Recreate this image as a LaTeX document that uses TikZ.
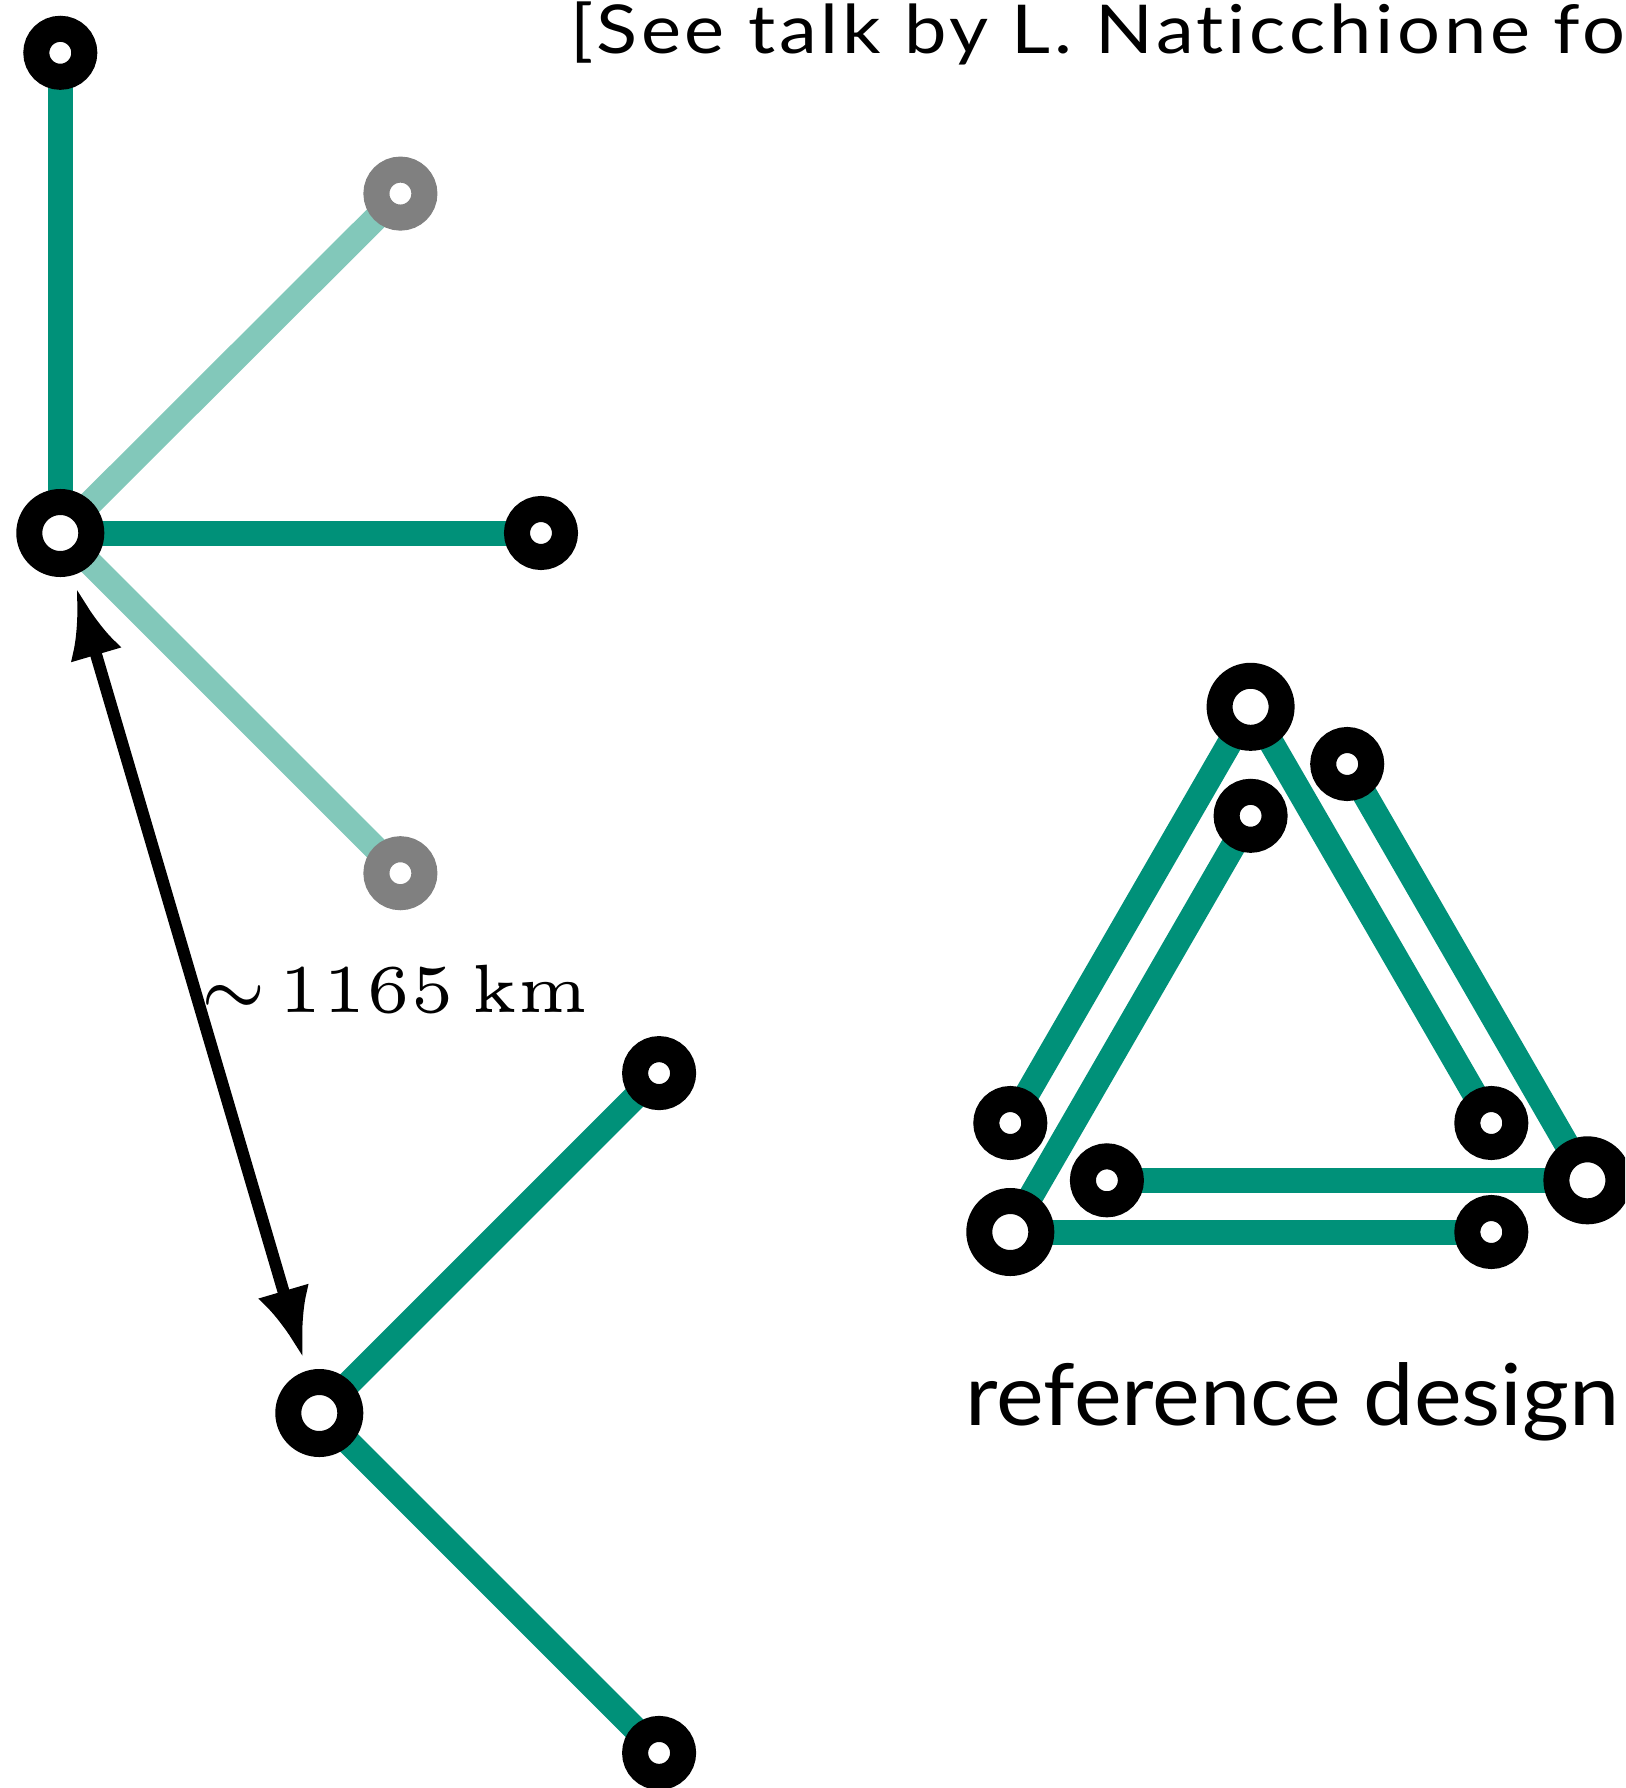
\documentclass[tikz,border=0pt]{standalone}
\usepackage{graphicx}
\usepackage{fontspec}
\newfontfamily\capfont{Lato}[Ligatures=NoCommon]
\newfontfamily\notefont{Lato}[LetterSpace=5, Ligatures=NoCommon]
\usetikzlibrary{arrows.meta}
\definecolor{armgreen}{RGB}{0,145,121}
\definecolor{armlight}{RGB}{130,200,186}
\definecolor{stationgrey}{RGB}{128,128,128}
\pgfdeclarelayer{arms}
\pgfsetlayers{arms,main}
% set a line of text to a given width, with the height of a chosen letter scaled to a given size
\newsavebox\sizedbox
\newcommand\sizedtext[4]{\resizebox{#1}{#2}{\sbox\sizedbox{#4}\ht\sizedbox=\fontcharht\font`#3\dp\sizedbox=0pt\usebox\sizedbox}}
\tikzset{
  station/.style={circle, draw=black, line width=26pt, fill=white, inner sep=0pt, minimum size=48pt},
  bigstation/.style={station, minimum size=62pt},
  greystation/.style={station, draw=stationgrey},
  arm/.style={line width=25pt, draw=armgreen},
  lightarm/.style={line width=25pt, draw=armlight},
  separation/.style={line width=12pt, {Latex[length=70pt,width=53pt]}-{Latex[length=70pt,width=53pt]}, shorten <=13pt, shorten >=13pt},
}
\begin{document}
\begin{tikzpicture}[x=1pt, y=-1pt]
\useasboundingbox (0,0) rectangle (1625,1788);
\clip (0,0) rectangle (1625,1788);

% first network: central station with four arms
\node[bigstation] (c) at (60.3,533) {};
\node[station] (n) at (60.3,52.8) {};
\node[station] (e) at (541,533) {};
\node[greystation] (ne) at (400.4,193.6) {};
\node[greystation] (se) at (400.4,873.2) {};

% second network
\node[bigstation] (l) at (319.3,1413) {};
\node[station] (lne) at (659.1,1073.1) {};
\node[station] (lse) at (659.1,1752.9) {};

% triangular arrangement
\node[bigstation] (ta) at (1250.6,706.8) {};
\node[station] (ta1) at (1010.3,1123) {};
\node[station] (ta2) at (1491.3,1123) {};
\node[bigstation] (tb) at (1010.3,1232) {};
\node[station] (tb1) at (1250.6,815.8) {};
\node[station] (tb2) at (1491.3,1232) {};
\node[bigstation] (tc) at (1587.4,1180.3) {};
\node[station] (tc1) at (1347.2,764) {};
\node[station] (tc2) at (1106.9,1180.3) {};

\begin{pgfonlayer}{arms}
  \draw[arm] (c.center) -- (n.center);
  \draw[arm] (c.center) -- (e.center);
  \draw[lightarm] (c.center) -- (ne.center);
  \draw[lightarm] (c.center) -- (se.center);
  \draw[arm] (l.center) -- (lne.center);
  \draw[arm] (l.center) -- (lse.center);
  \draw[arm] (ta.center) -- (ta1.center);
  \draw[arm] (ta.center) -- (ta2.center);
  \draw[arm] (tb.center) -- (tb1.center);
  \draw[arm] (tb.center) -- (tb2.center);
  \draw[arm] (tc.center) -- (tc1.center);
  \draw[arm] (tc.center) -- (tc2.center);
\end{pgfonlayer}

% separation between the two networks
\draw[separation] (c) -- (l);
\node[anchor=base west, inner sep=0pt, scale=13.66, xscale=0.95, font=\fontsize{5}{6}\selectfont] (dist) at (196,1012) {$\mathord{\sim}\kern0.75pt1165\,\mathrm{km}$};

% captions
\node[anchor=base west, inner sep=0pt, font=\notefont\fontsize{60}{70}\selectfont] (note) at (570,53.3)
  {\sizedtext{1055pt}{48.3pt}{N}{[See talk by L. Naticchione fo}};
\node[anchor=base west, inner sep=0pt, font=\capfont\fontsize{80}{90}\selectfont] (design) at (965.5,1425)
  {\sizedtext{654pt}{43.3pt}{x}{reference design}};
\end{tikzpicture}
\end{document}
